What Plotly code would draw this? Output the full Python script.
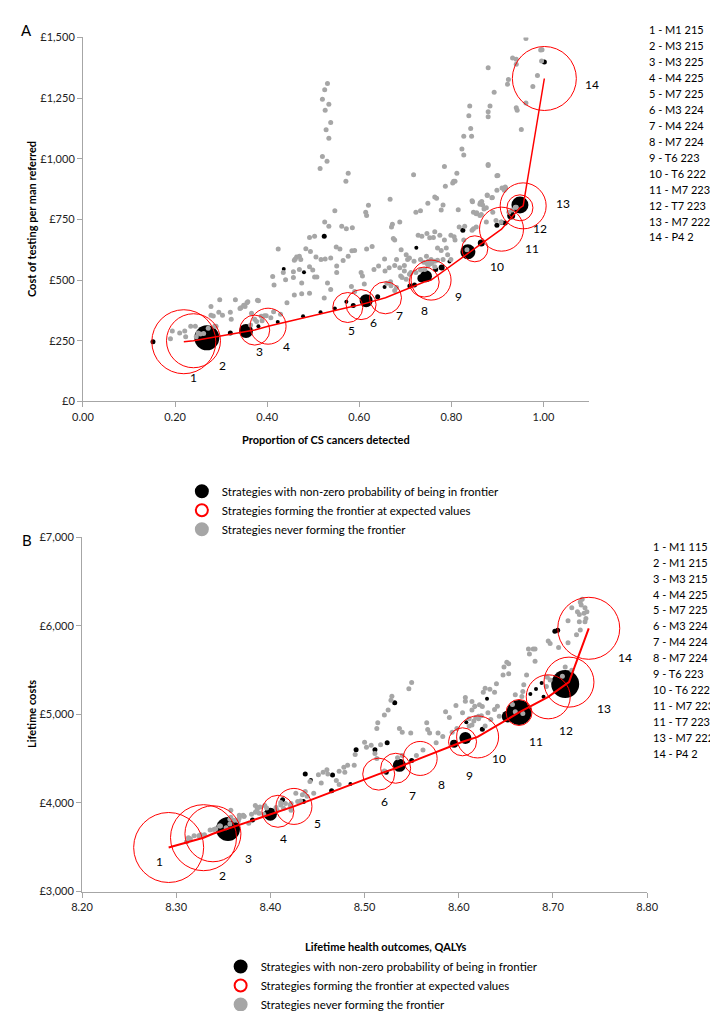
import plotly.graph_objects as go

W, H = 718, 1011
FONT = "Lato"

# ---------------- Panel A data ----------------
a_front_x = [0.219, 0.240, 0.373, 0.402, 0.575, 0.604, 0.657, 0.741, 0.756, 0.851, 0.909, 0.949, 0.956, 1.002]
a_front_y = [246, 250, 294, 310, 387, 399, 427, 492, 500, 629, 710, 798, 806, 1331]
a_circle_size = [64, 54, 30, 36, 30, 30, 32, 30, 40, 26, 44, 26, 46, 64]
a_label_dx = [10, 29, 5, 18, 4, 12, 14, 0, 27, 22, 30, 20, 40, 48]
a_label_dy = [36, 25, 21, 20, 23, 18, 18, 28, 16, 18, 19, 21, -2, 6]
a_labels = ["1 - M1 215", "2 - M3 215", "3 - M3 225", "4 - M4 225", "5 - M7 225", "6 - M3 224",
            "7 - M4 224", "8 - M7 224", "9 - T6 223", "10 - T6 222", "11 - M7 223", "12 - T7 223",
            "13 - M7 222", "14 - P4 2"]

a_black = [(0.152, 246, 5), (0.269, 262, 25), (0.320, 282, 5), (0.354, 290, 14), (0.381, 310, 4),
           (0.423, 327, 4), (0.436, 546, 4), (0.480, 532, 4), (0.478, 351, 4), (0.516, 367, 4),
           (0.547, 383, 4), (0.572, 411, 4), (0.587, 395, 5), (0.615, 415, 13), (0.640, 431, 5),
           (0.655, 472, 4), (0.524, 681, 5), (0.710, 476, 5), (0.720, 480, 5), (0.735, 508, 8),
           (0.745, 516, 12), (0.766, 544, 5), (0.779, 552, 6), (0.796, 577, 4), (0.724, 633, 4),
           (0.825, 706, 5), (0.836, 617, 15), (0.865, 653, 7), (0.899, 726, 5), (0.909, 738, 5),
           (0.917, 735, 5), (0.930, 766, 8), (0.949, 810, 17), (1.002, 1399, 5)]

a_gray = [
    (0.190, 258), (0.194, 290), (0.210, 282), (0.221, 290), (0.223, 266), (0.234, 310), (0.244, 310),
    (0.246, 266), (0.250, 282), (0.255, 278), (0.262, 280), (0.272, 302), (0.278, 391), (0.278, 355),
    (0.283, 352), (0.286, 310), (0.295, 367), (0.303, 355), (0.289, 310), (0.320, 367), (0.322, 339),
    (0.297, 419), (0.331, 419), (0.341, 383), (0.343, 386), (0.352, 391), (0.358, 411), (0.381, 415),
    (0.373, 339), (0.387, 351), (0.394, 353), (0.364, 315),
    (0.576, 940), (0.571, 907), (0.718, 934), (0.785, 968), (0.880, 972), (0.899, 930), (0.547, 786),
    (0.525, 739), (0.534, 722), (0.492, 676), (0.503, 681), (0.562, 722), (0.572, 712), (0.585, 716),
    (0.424, 628), (0.459, 582), (0.464, 595), (0.470, 598), (0.473, 585), (0.461, 587), (0.484, 629),
    (0.494, 618), (0.506, 595), (0.517, 585), (0.526, 587), (0.538, 591), (0.550, 636), (0.558, 628),
    (0.551, 558), (0.565, 581), (0.576, 598), (0.584, 621), (0.590, 622), (0.616, 628), (0.628, 638),
    (0.614, 780), (0.620, 809), (0.616, 766), (0.667, 833), (0.672, 730), (0.670, 719), (0.688, 739),
    (0.677, 665), (0.674, 672), (0.655, 587), (0.681, 585), (0.691, 625), (0.702, 605), (0.705, 585),
    (0.709, 591), (0.698, 560), (0.719, 578), (0.733, 585), (0.740, 574), (0.746, 598), (0.756, 585),
    (0.750, 560), (0.757, 568), (0.764, 578), (0.770, 582), (0.728, 685), (0.736, 681), (0.747, 692),
    (0.753, 675), (0.761, 676), (0.764, 699), (0.775, 685), (0.785, 665), (0.723, 780), (0.733, 786),
    (0.749, 817), (0.764, 843), (0.768, 837), (0.778, 789), (0.782, 810), (0.787, 887), (0.805, 907),
    (0.803, 900), (0.829, 722), (0.799, 685), (0.808, 665), (0.827, 665), (0.845, 827), (0.862, 813),
    (0.866, 824), (0.871, 793), (0.878, 849), (0.889, 840), (0.899, 870), (0.910, 880), (0.917, 884),
    (0.848, 780), (0.854, 773), (0.862, 766), (0.845, 706), (0.848, 712), (0.854, 719), (0.876, 739),
    (0.890, 780), (0.897, 746), (0.908, 739), (0.925, 780), (0.932, 789), (0.939, 800),
    (0.379, 417), (0.356, 407), (0.349, 396), (0.366, 363), (0.377, 329), (0.389, 332), (0.398, 353),
    (0.414, 370), (0.429, 359), (0.408, 345), (0.443, 407), (0.459, 439), (0.475, 444), (0.492, 446),
    (0.503, 513), (0.475, 488), (0.457, 511), (0.435, 531), (0.412, 515), (0.415, 480), (0.440, 501),
    (0.457, 534), (0.470, 544), (0.492, 555), (0.508, 513), (0.499, 542), (0.524, 426), (0.538, 461),
    (0.531, 488), (0.551, 531), (0.583, 474), (0.590, 453), (0.604, 531), (0.607, 517), (0.611, 484),
    (0.632, 544), (0.642, 558), (0.656, 538), (0.665, 551), (0.677, 560), (0.688, 551), (0.698, 538),
    (0.690, 517), (0.660, 487), (0.668, 493), (0.669, 477), (0.677, 457), (0.681, 470), (0.693, 511),
    (0.702, 504), (0.709, 524), (0.712, 531), (0.723, 531), (0.733, 542), (0.742, 544), (0.747, 568),
    (0.750, 578), (0.764, 555), (0.782, 585), (0.792, 605), (0.799, 585), (0.778, 622), (0.770, 632),
    (0.789, 632), (0.806, 679), (0.817, 719), (0.834, 625),
    (0.531, 1310), (0.525, 1285), (0.520, 1245), (0.534, 1225), (0.526, 1200), (0.538, 1150),
    (0.528, 1120), (0.534, 1085), (0.520, 1010), (0.530, 990), (0.515, 960),
    (0.962, 1496), (0.994, 1448), (0.997, 1450), (0.933, 1415), (0.941, 1410), (0.941, 1390),
    (0.996, 1403), (0.987, 1343), (0.924, 1327), (0.922, 1307), (0.977, 1298), (0.880, 1375),
    (0.893, 1274), (0.962, 1230), (0.941, 1210), (0.943, 1200), (0.840, 1218), (0.884, 1218),
    (0.838, 1177), (0.880, 1194), (0.880, 1173), (0.842, 1125), (0.827, 1093), (0.844, 1093),
    (0.952, 1121), (0.823, 1040), (0.827, 1016), (0.880, 976), (0.812, 940), (0.901, 931),
    (0.808, 907), (0.918, 879), (0.915, 870), (0.878, 851), (0.846, 823), (0.863, 819), (0.868, 810),
    (0.876, 798), (0.815, 790), (0.888, 839), (0.855, 778), (0.865, 770), (0.941, 800)]

# ---------------- Panel B data ----------------
b_front_x = [8.292, 8.329, 8.339, 8.408, 8.425, 8.515, 8.533, 8.559, 8.604, 8.620, 8.664, 8.695, 8.717, 8.738]
b_front_y = [3497, 3608, 3652, 3906, 3961, 4326, 4392, 4503, 4691, 4746, 5022, 5199, 5365, 5973]
b_circle_size = [70, 66, 56, 32, 36, 32, 30, 34, 28, 42, 26, 44, 50, 62]
b_label_text = ["1", "2", "3", "4", "5", "6", "7", "8", "9", "10", "11", "12", "13", "14"]
b_label_dx = [-9, 19, 36, 6, 24, 6, 17, 21, 7, 21, 17, 18, 35, 36]
b_label_dy = [14, 38, 25, 27, 17, 27, 27, 26, 34, 22, 29, 34, 26, 29]
b_labels = ["1 - M1 115", "2 - M1 215", "3 - M3 215", "4 - M4 225", "5 - M7 225", "6 - M3 224",
            "7 - M4 224", "8 - M7 224", "9 - T6 223", "10 - T6 222", "11 - M7 223", "11 - T7 223",
            "13 - M7 222", "14 - P4 2"]

b_black = [(8.355, 3707, 24), (8.381, 3807, 5), (8.400, 3873, 13), (8.413, 4035, 5), (8.435, 4017, 5),
           (8.437, 4326, 5), (8.443, 4260, 4), (8.466, 4315, 5), (8.465, 4138, 5), (8.485, 4215, 4),
           (8.491, 4602, 5), (8.511, 4602, 5), (8.524, 4680, 5), (8.532, 5133, 5), (8.523, 4348, 5),
           (8.537, 4425, 13), (8.550, 4481, 5), (8.595, 4668, 8), (8.607, 4735, 12), (8.608, 4912, 4),
           (8.617, 5089, 4), (8.625, 4834, 5), (8.630, 5177, 4), (8.652, 4978, 12), (8.664, 5022, 25),
           (8.676, 5232, 4), (8.682, 5287, 4), (8.688, 5354, 4), (8.690, 5199, 4), (8.713, 5343, 28),
           (8.705, 5950, 5), (8.702, 5940, 5)]

b_gray = [
    (8.311, 3563), (8.315, 3597), (8.324, 3630), (8.330, 3640), (8.336, 3696), (8.340, 3700),
    (8.346, 3740), (8.358, 3840), (8.367, 3862), (8.371, 3860), (8.358, 3917), (8.380, 3873),
    (8.386, 3950), (8.313, 3608), (8.319, 3630), (8.326, 3641), (8.342, 3710), (8.347, 3740),
    (8.357, 3762), (8.362, 3806), (8.367, 3829), (8.372, 3851), (8.377, 3770), (8.353, 3720),
    (8.357, 3817), (8.366, 3800), (8.388, 3884), (8.384, 3972), (8.389, 3955), (8.394, 3972),
    (8.407, 3917), (8.414, 3939), (8.422, 3994), (8.429, 4017), (8.434, 4094), (8.437, 4130),
    (8.422, 3917), (8.411, 4006), (8.393, 3873),
    (8.372, 3851), (8.384, 3895), (8.386, 3928), (8.396, 3944), (8.406, 3950), (8.411, 3978),
    (8.416, 3994), (8.421, 3978), (8.427, 4110), (8.432, 4022), (8.439, 4077), (8.442, 4243),
    (8.446, 4110), (8.451, 4320), (8.456, 4348), (8.460, 4375), (8.461, 4326), (8.454, 4227),
    (8.470, 4254), (8.473, 4210), (8.473, 4359), (8.478, 4403), (8.479, 4348), (8.482, 4425),
    (8.490, 4547), (8.489, 4425), (8.500, 4685), (8.502, 4630), (8.507, 4652), (8.511, 4558),
    (8.513, 4503), (8.517, 4657), (8.514, 4906), (8.513, 4840), (8.521, 4994), (8.525, 5050),
    (8.528, 5160), (8.529, 5205), (8.547, 5289), (8.550, 5360), (8.537, 4840), (8.540, 4800),
    (8.549, 4790), (8.521, 4360), (8.535, 4510), (8.540, 4536), (8.555, 4536), (8.562, 4597),
    (8.567, 4830), (8.566, 4906), (8.569, 4790), (8.576, 4680), (8.578, 4790), (8.583, 4752),
    (8.586, 5030), (8.590, 4965), (8.593, 4800), (8.597, 5100), (8.607, 5190), (8.607, 5150),
    (8.614, 5050), (8.618, 4965), (8.625, 5090), (8.626, 5250), (8.621, 4950), (8.604, 5020),
    (8.611, 4950), (8.598, 4840), (8.614, 4880),
    (8.614, 5147), (8.617, 5092), (8.622, 5110), (8.621, 4980), (8.624, 4985), (8.611, 4870),
    (8.616, 4925), (8.628, 4870), (8.631, 5018), (8.638, 5055), (8.641, 5092), (8.634, 4943),
    (8.643, 4980), (8.628, 5296), (8.633, 5285), (8.638, 5250), (8.640, 5346), (8.647, 5445),
    (8.648, 5535), (8.653, 5460), (8.653, 5573), (8.651, 5590), (8.657, 5113), (8.660, 5222),
    (8.667, 5204), (8.668, 5260), (8.669, 5335), (8.672, 5445), (8.674, 5738), (8.675, 5683),
    (8.679, 5738), (8.681, 5738), (8.681, 5600), (8.693, 5316), (8.694, 5420), (8.697, 5390),
    (8.695, 5830), (8.697, 5800), (8.706, 5756), (8.716, 5810), (8.716, 6058), (8.720, 6205),
    (8.726, 6160), (8.728, 6130), (8.729, 6270), (8.731, 6300), (8.730, 6235), (8.733, 6142),
    (8.735, 6085), (8.734, 6048), (8.729, 5955), (8.725, 5900), (8.728, 6048), (8.736, 6160),
    (8.734, 6205), (8.713, 5535), (8.710, 5430), (8.720, 5500), (8.660, 5030), (8.668, 5010)]

legend_names = ["Strategies with non-zero probability of being in frontier",
                "Strategies forming the frontier at expected values",
                "Strategies never forming the frontier"]

GRAY = "#A6A6A6"
RED = "#FF0000"

fig = go.Figure()


def add_panel(xa, ya, front_x, front_y, csize, black, gray, lw, legend):
    fig.add_trace(go.Scatter(
        x=[p[0] for p in black], y=[p[1] for p in black], mode="markers",
        marker=dict(color="black", size=[p[2] for p in black], opacity=1, line=dict(width=0)),
        xaxis=xa, yaxis=ya, showlegend=False, hoverinfo="skip"))
    fig.add_trace(go.Scatter(
        x=[p[0] for p in gray], y=[p[1] for p in gray], mode="markers",
        marker=dict(color=GRAY, size=5, opacity=1, line=dict(width=0)),
        xaxis=xa, yaxis=ya, showlegend=False, hoverinfo="skip"))
    fig.add_trace(go.Scatter(
        x=front_x, y=front_y, mode="lines", line=dict(color=RED, width=lw),
        xaxis=xa, yaxis=ya, showlegend=False, hoverinfo="skip"))
    fig.add_trace(go.Scatter(
        x=front_x, y=front_y, mode="markers",
        marker=dict(symbol="circle-open", color=RED, size=csize, opacity=1,
                    line=dict(width=1, color=RED)),
        xaxis=xa, yaxis=ya, showlegend=False, hoverinfo="skip"))
    # legend-only entries
    for name, sym, col in zip(legend_names, ["circle", "circle-open", "circle"], ["black", RED, GRAY]):
        fig.add_trace(go.Scatter(
            x=[None], y=[None], mode="markers", name=name,
            marker=dict(symbol=sym, color=col, size=10, opacity=1, line=dict(width=1.5, color=col)),
            xaxis=xa, yaxis=ya, showlegend=True, legend=legend))


add_panel("x", "y", a_front_x, a_front_y, a_circle_size, a_black, a_gray, 1.5, "legend")
add_panel("x2", "y2", b_front_x, b_front_y, b_circle_size, b_black, b_gray, 2, "legend2")

ann = []
for i, (cx, cy) in enumerate(zip(a_front_x, a_front_y)):
    ann.append(dict(x=cx, y=cy, xref="x", yref="y", text=str(i + 1), showarrow=False,
                    xshift=a_label_dx[i], yshift=-a_label_dy[i], font=dict(size=12, color="black")))
for i, (cx, cy) in enumerate(zip(b_front_x, b_front_y)):
    ann.append(dict(x=cx, y=cy, xref="x2", yref="y2", text=b_label_text[i], showarrow=False,
                    xshift=b_label_dx[i], yshift=-b_label_dy[i], font=dict(size=12, color="black")))


def P(px, py):
    return px / W, 1 - py / H


def text_ann(px, py, text, size=12, bold=False, angle=0, xanchor="center", yanchor="middle", align="center"):
    x, y = P(px, py)
    t = f"<b>{text}</b>" if bold else text
    ann.append(dict(x=x, y=y, xref="paper", yref="paper", text=t, showarrow=False, textangle=angle,
                    xanchor=xanchor, yanchor=yanchor, align=align,
                    font=dict(size=size, color="black")))


text_ann(8, 15, "A", size=15)
text_ann(8, 537, "B", size=15)
text_ann(13, 209, "Cost of testing per man referred", size=11, bold=True, angle=-90)
text_ann(13, 715, "Lifetime costs", size=11, bold=True, angle=-90)
text_ann(317, 434, "Proportion of CS cancers detected", size=11, bold=True)
text_ann(378, 952, "Lifetime health outcomes, QALYs", size=11, bold=True)
LINE = 16.3
for i, lab in enumerate(a_labels):
    text_ann(648, 15 + i * LINE, lab, size=11, xanchor="left")
for i, lab in enumerate(b_labels):
    text_ann(652, 543 + i * LINE, lab, size=11, xanchor="left")

axis_common = dict(showline=True, linecolor=GRAY, linewidth=1, ticks="outside", ticklen=5,
                   tickcolor=GRAY, showgrid=False, zeroline=False,
                   tickfont=dict(size=11, color="#222222"), fixedrange=True)

fig.update_layout(
    width=W, height=H, margin=dict(l=0, r=0, t=0, b=0),
    paper_bgcolor="white", plot_bgcolor="white",
    font=dict(family=FONT, color="black"),
    xaxis=dict(domain=[66 / W, 588.5 / W], range=[0, 1.1], anchor="y",
               tickvals=[0, 0.2, 0.4, 0.6, 0.8, 1.0], tickformat=".2f", **axis_common),
    yaxis=dict(domain=[1 - 395 / H, 1 - 23 / H], range=[0, 1500], anchor="x",
               dtick=250, tickprefix="£", tickformat=",d", **axis_common),
    xaxis2=dict(domain=[65 / W, 648 / W], range=[8.2, 8.8], anchor="y2",
                dtick=0.1, tickformat=".2f", **axis_common),
    yaxis2=dict(domain=[1 - 896 / H, 1 - 534 / H], range=[3000, 7000], anchor="x2",
                dtick=1000, tickprefix="£", tickformat=",d", **axis_common),
    legend=dict(x=168 / W, y=1 - 472 / H, xanchor="left", yanchor="top",
                font=dict(size=11.5, color="black"), bgcolor="rgba(0,0,0,0)",
                itemsizing="constant", tracegroupgap=0),
    legend2=dict(x=208 / W, y=1 - 958 / H, xanchor="left", yanchor="top",
                 font=dict(size=11.5, color="black"), bgcolor="rgba(0,0,0,0)",
                 itemsizing="constant", tracegroupgap=0),
    annotations=ann,
    showlegend=True,
)

fig.write_html("out.html")
